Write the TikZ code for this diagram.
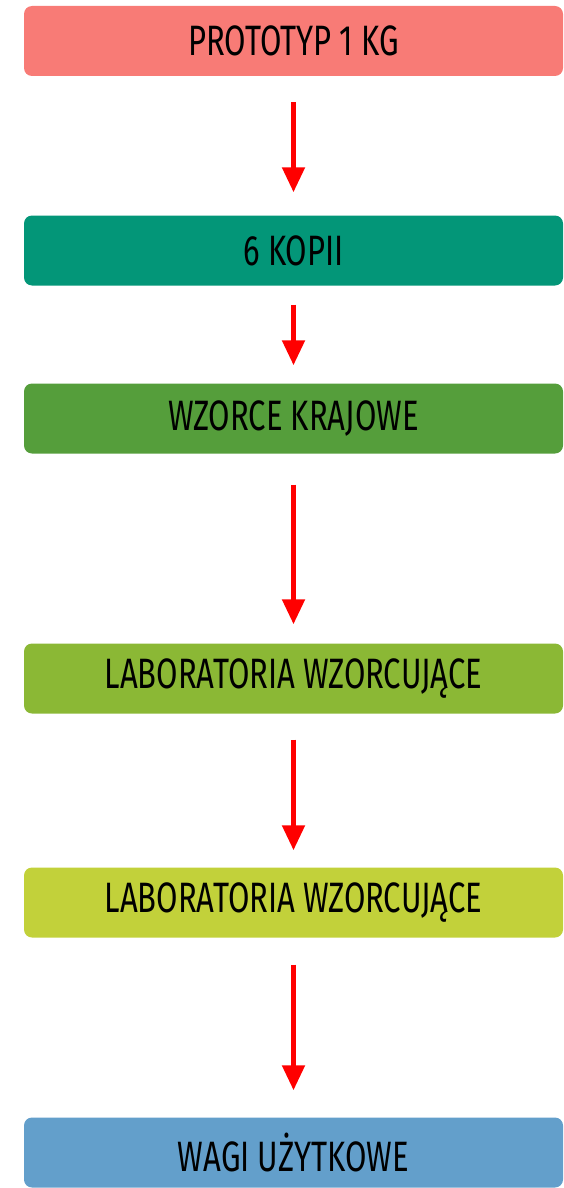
\documentclass[tikz,border=0pt]{standalone}
\usepackage{fontspec}
\setmainfont{Fira Sans}[FakeStretch=0.73]
\usetikzlibrary{arrows.meta}
\definecolor{c1}{HTML}{F87B76}
\definecolor{c2}{HTML}{039678}
\definecolor{c3}{HTML}{559E3B}
\definecolor{c4}{HTML}{8BB835}
\definecolor{c5}{HTML}{C2D13A}
\definecolor{c6}{HTML}{639FCB}
\tikzset{
  stage/.style={fill=#1, draw=none, rounded corners=8pt, minimum width=539pt,
    minimum height=70pt, inner sep=0pt, font=\fontsize{42.5}{46}\selectfont, text=black},
  flow/.style={draw=red, line width=5pt, -{Triangle[width=22pt,length=25pt]}}
}
\begin{document}
\begin{tikzpicture}[x=1pt,y=-1pt]
  \useasboundingbox (0,0) rectangle (563,1188);
  \node[stage=c1] (b1) at (293.5,41)   {PROTOTYP 1 KG};
  \node[stage=c2] (b2) at (293.5,250.5) {6 KOPII};
  \node[stage=c3] (b3) at (293.5,418.5) {WZORCE KRAJOWE};
  \node[stage=c4] (b4) at (293.5,678.5) {LABORATORIA WZORCUJĄCE};
  \node[stage=c5] (b5) at (293.5,902.5) {LABORATORIA WZORCUJĄCE};
  \node[stage=c6] (b6) at (293.5,1152.5) {WAGI UŻYTKOWE};
  \draw[flow, shorten <=26pt, shorten >=23pt] (b1.south) -- (b2.north);
  \draw[flow, shorten <=19pt, shorten >=18pt] (b2.south) -- (b3.north);
  \draw[flow, shorten <=31pt, shorten >=19pt] (b3.south) -- (b4.north);
  \draw[flow, shorten <=26pt, shorten >=17pt] (b4.south) -- (b5.north);
  \draw[flow, shorten <=27pt, shorten >=27pt] (b5.south) -- (b6.north);
\end{tikzpicture}
\end{document}
